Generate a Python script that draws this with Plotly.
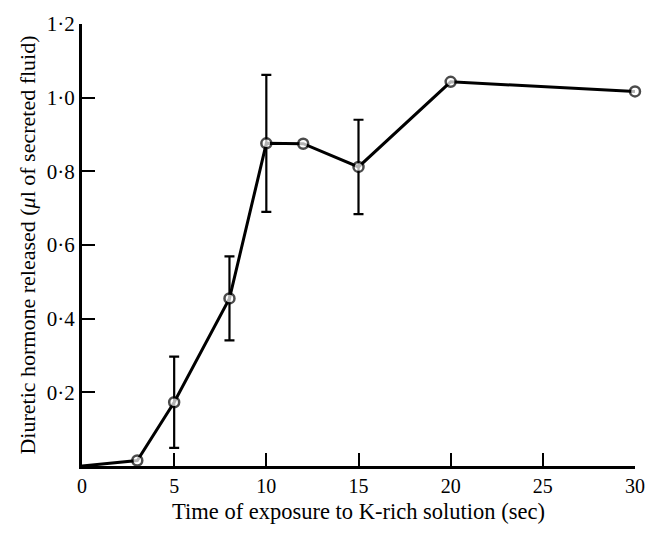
import plotly.graph_objects as go

# Data
time_sec = [0, 3, 5, 8, 10, 12, 15, 20, 30]
hormone = [0.0, 0.015, 0.173, 0.455, 0.876, 0.875, 0.812, 1.043, 1.017]

err_time = [5, 8, 10, 15]
err_mean = [0.173, 0.455, 0.876, 0.812]
err_sd = [0.124, 0.114, 0.186, 0.128]

x_ticks = [0, 5, 10, 15, 20, 25, 30]
y_ticks = [0.2, 0.4, 0.6, 0.8, 1.0, 1.2]
y_tick_text = ["0·2", "0·4", "0·6", "0·8", "1·0", "1·2"]

font_family = "Liberation Serif, Times New Roman, serif"

fig = go.Figure()

# error bars (drawn beneath the markers)
fig.add_trace(go.Scatter(
    x=err_time, y=err_mean, mode="markers",
    marker=dict(size=1, opacity=0),
    error_y=dict(type="data", array=err_sd, visible=True,
                 color="black", thickness=2.2, width=5),
    hoverinfo="skip", showlegend=False, cliponaxis=False,
))

# line with open circle markers (no marker at origin)
fig.add_trace(go.Scatter(
    x=time_sec, y=hormone, mode="lines+markers",
    line=dict(color="black", width=3),
    marker=dict(symbol="circle", size=[0] + [10] * (len(time_sec) - 1),
                color="white", line=dict(color="black", width=2.5)),
    showlegend=False, cliponaxis=False,
))

fig.update_layout(
    width=657, height=535,
    margin=dict(l=82, r=14, t=14, b=69),
    paper_bgcolor="white", plot_bgcolor="white",
    font=dict(family=font_family, color="black", size=20),
)

fig.update_xaxes(
    range=[0, 30], tickvals=x_ticks, ticktext=[str(v) for v in x_ticks],
    ticks="inside", ticklen=13, tickwidth=2.2, tickcolor="black",
    showline=True, linewidth=3, linecolor="black",
    showgrid=False, zeroline=False,
    tickfont=dict(size=20, family=font_family),
    title=dict(text="Time of exposure to K-rich solution (sec)",
               font=dict(size=22.5, family=font_family), standoff=8),
)

fig.update_yaxes(
    range=[0, 1.2], tickvals=y_ticks, ticktext=y_tick_text,
    ticks="inside", ticklen=13, tickwidth=2.2, tickcolor="black",
    showline=True, linewidth=3, linecolor="black",
    showgrid=False, zeroline=False,
    tickfont=dict(size=21, family=font_family),
    title=dict(text="Diuretic hormone released (<i>μ</i>l of secreted fluid)",
               font=dict(size=22, family=font_family), standoff=6),
)

fig.write_html("out.html")
